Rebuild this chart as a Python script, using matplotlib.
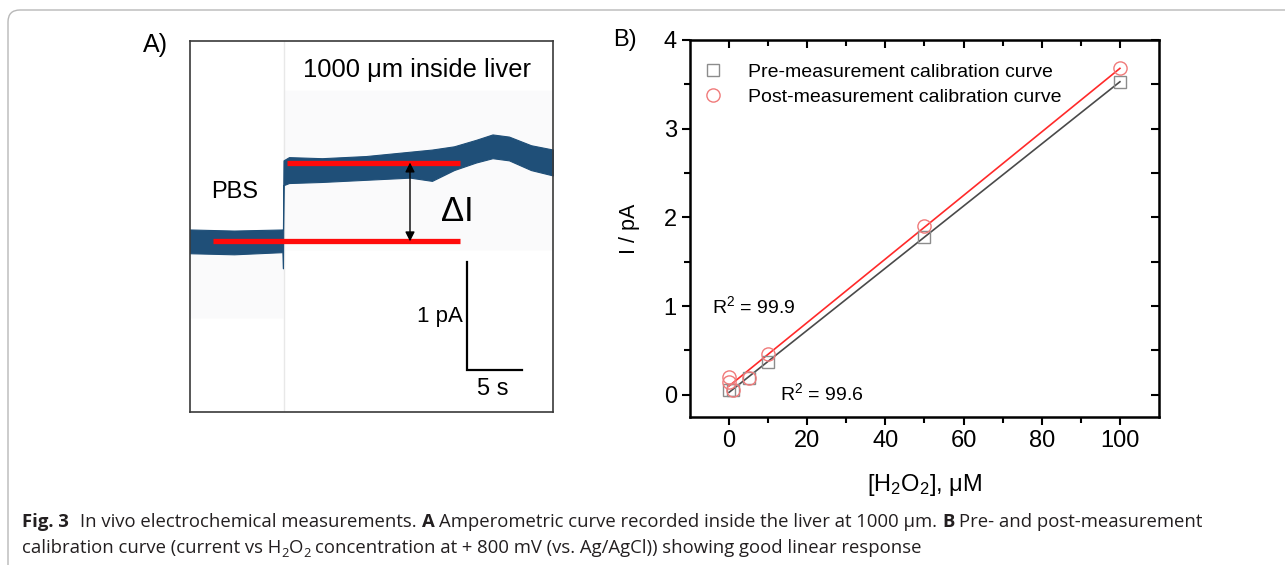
"""
"  plot.py
"  Fig. 3: in vivo amperometric trace (A) and calibration curves (B)
"""

import matplotlib
matplotlib.use('Agg')
import matplotlib.pyplot as plt
from matplotlib.patches import FancyBboxPatch
import numpy as np

plt.rcParams['font.family'] = ['Liberation Sans', 'DejaVu Sans']
plt.rcParams['mathtext.fontset'] = 'custom'
plt.rcParams['mathtext.rm'] = 'Liberation Sans'
plt.rcParams['mathtext.it'] = 'Liberation Sans:italic'

# ---- panel A: envelope of the noisy trace (s, pA)
trace_t = [0, 4, 8.4, 8.45, 8.5, 9, 12, 16, 20, 22, 24, 26, 27.5, 29, 31, 33]
trace_hi = [1.69, 1.68, 1.69, 1.69, 2.33, 2.36, 2.35, 2.37, 2.41, 2.43, 2.46, 2.52, 2.57, 2.55, 2.47, 2.43]
trace_lo = [1.47, 1.46, 1.48, 1.33, 2.10, 2.12, 2.13, 2.15, 2.17, 2.14, 2.24, 2.31, 2.35, 2.33, 2.24, 2.19]
# faint raw-signal haze around the trace
haze_t = [0, 8.45, 8.5, 33]
haze_lo = [0.87, 0.87, 1.5, 1.5]
haze_hi = [1.6, 1.6, 2.98, 2.98]
baseline_level = 1.58
baseline_span = [2.1, 24.5]
liver_level = 2.31
liver_span = [8.8, 24.5]
step_time = 8.5
scalebar_origin = [25.2, 0.39]
scalebar_size = [5, 1]   # 5 s, 1 pA

# ---- panel B: calibration points
pre_x = [0, 1, 5, 10, 50, 100]
pre_y = [0.05, 0.06, 0.19, 0.37, 1.78, 3.53]
post_x = [0, 0, 1, 5, 10, 50, 100]
post_y = [0.20, 0.15, 0.06, 0.19, 0.46, 1.90, 3.68]
pre_label = 'Pre-measurement calibration curve'
post_label = 'Post-measurement calibration curve'

CAPTION_FONT = ['Open Sans', 'DejaVu Sans']
INK = '#231f20'

fig = plt.figure(figsize=(12.85, 5.65), dpi=100)

# outer rounded frame of the figure box
fig.patches.append(FancyBboxPatch((8, -30), 1320, 585, boxstyle='round,pad=0,rounding_size=12',
                                  transform=None, fill=False, edgecolor='#b8b8b8', lw=1))

# ================= panel A =================
axA = fig.add_axes([190 / 1285, 1 - 412 / 565, 363 / 1285, 371 / 565])
axA.set_xlim(0, 33)
axA.set_ylim(0, 371 / 108)
axA.set_xticks([])
axA.set_yticks([])
for sp in axA.spines.values():
    sp.set_color('#3a3a3a')
    sp.set_linewidth(1.2)

axA.fill_between(haze_t, haze_lo, haze_hi, color='#fafafb', lw=0, zorder=0)
axA.axvline(step_time, color='#e8e8e8', lw=1.0, zorder=1)
axA.fill_between(trace_t, trace_lo, trace_hi, color='#1f4f78', lw=0.8, edgecolor='#1f4f78', zorder=2)
axA.plot(baseline_span, [baseline_level] * 2, color='#ff0a0a', lw=3.8, solid_capstyle='butt', zorder=3)
axA.plot(liver_span, [liver_level] * 2, color='#ff0a0a', lw=3.8, solid_capstyle='butt', zorder=3)
axA.annotate('', xy=(20, liver_level), xytext=(20, baseline_level),
             arrowprops=dict(arrowstyle='<|-|>', color='black', lw=1.0, mutation_scale=14,
                             shrinkA=0, shrinkB=0), zorder=4)
axA.text(22.7, 1.86, r'$\Delta$I', fontsize=25, va='center', ha='left')
axA.text(4.1, 2.04, 'PBS', fontsize=17, va='center', ha='center')
axA.text(20.6, 3.17, '1000 \u03bcm inside liver', fontsize=18.4, va='center', ha='center')

sx, sy = scalebar_origin
sw, sh = scalebar_size
axA.plot([sx, sx, sx + sw], [sy + sh, sy, sy], color='black', lw=1.6, solid_joinstyle='miter')
axA.text(sx - 0.35, 0.88, '1 pA', fontsize=16, ha='right', va='center')
axA.text(sx + sw / 2 - 0.2, 0.21, '5 s', fontsize=17, ha='center', va='center')

fig.text(155 / 1285, 1 - 45 / 565, 'A)', fontsize=18, ha='center', va='center')

# ================= panel B =================
axB = fig.add_axes([690 / 1285, 1 - 417 / 565, 469 / 1285, 377 / 565])
axB.set_xlim(-10, 110)
axB.set_ylim(-0.25, 4)

for xs, ys, lc, mc, mk, ms, lab in [(pre_x, pre_y, '#4a4a4a', '#8c8c8c', 's', 8, pre_label),
                                    (post_x, post_y, '#ff2a2a', '#f07a7a', 'o', 9.5, post_label)]:
    k, b = np.polyfit(xs, ys, 1)
    fx = np.array([min(xs), max(xs)])
    axB.plot(fx, k * fx + b, color=lc, lw=1.2, zorder=2)
    axB.plot(xs, ys, ls='none', marker=mk, ms=ms, mfc='none', mec=mc, mew=1.0, label=lab, zorder=3)

axB.set_xticks([0, 20, 40, 60, 80, 100])
axB.set_xticks([10, 30, 50, 70, 90], minor=True)
axB.set_yticks([0, 1, 2, 3, 4])
axB.set_yticks([0.5, 1.5, 2.5, 3.5], minor=True)
axB.tick_params(which='both', direction='out', top=False, right=False, labelsize=17, width=1.5)
axB.tick_params(which='major', length=6)
axB.tick_params(which='minor', length=4)
for sp in axB.spines.values():
    sp.set_linewidth(1.8)

# mirrored inward ticks on top and right
axT = axB.secondary_xaxis('top')
axT.set_xticks([0, 20, 40, 60, 80, 100])
axT.set_xticks([10, 30, 50, 70, 90], minor=True)
axT.tick_params(which='both', direction='in', labeltop=False, width=1.5, length=6)
axT.tick_params(which='minor', length=4)
axR = axB.secondary_yaxis('right')
axR.set_yticks([0, 1, 2, 3, 4])
axR.set_yticks([0.5, 1.5, 2.5, 3.5], minor=True)
axR.tick_params(which='both', direction='in', labelright=False, width=1.5, length=6)

axB.set_ylabel('I / pA', fontsize=15.5)
axB.yaxis.set_label_coords(-50 / 469, 0.5)
axB.set_xlabel('[H$_2$O$_2$], \u03bcM', fontsize=17, labelpad=14)

axB.text(-4.4, 1.0, 'R$^2$ = 99.9', fontsize=14, va='center', ha='left')
axB.text(13, 0.02, 'R$^2$ = 99.6', fontsize=14, va='center', ha='left')

axB.legend(loc='upper left', bbox_to_anchor=(0.029, 0.939), frameon=False, fontsize=14,
           handlelength=1.0, handletextpad=1.3, labelspacing=0.38, borderaxespad=0, borderpad=0)

fig.text(625 / 1285, 1 - 40 / 565, 'B)', fontsize=17, ha='center', va='center')

# ================= caption =================
renderer = fig.canvas.get_renderer()


def text_width(s, size, weight='normal'):
    t = fig.text(0, 0, s, fontsize=size, fontweight=weight, family=CAPTION_FONT)
    w = t.get_window_extent(renderer=renderer).width
    t.remove()
    return w


def put_line(x0, y0, pieces, size):
    """pieces: (text, weight, size scale, baseline shift in px, space after)"""
    space = text_width('x x', size) - text_width('xx', size)
    x = x0
    for s, w, sc, dy, gap in pieces:
        t = fig.text(x / 1285, (565 - y0 + dy) / 565, s, fontsize=size * sc, fontweight=w,
                     family=CAPTION_FONT, color=INK, ha='left', va='baseline')
        x += t.get_window_extent(renderer=renderer).width + gap * space


cap_size = 13.3
put_line(22, 527, [('Fig. 3', 'bold', 1, 0, 2.4),
                   ('In vivo electrochemical measurements.', 'normal', 1, 0, 1),
                   ('A', 'bold', 1, 0, 1),
                   ('Amperometric curve recorded inside the liver at 1000 \u00b5m.', 'normal', 1, 0, 1),
                   ('B', 'bold', 1, 0, 1),
                   ('Pre- and post-measurement', 'normal', 1, 0, 0)], cap_size)
put_line(22, 553, [('calibration curve (current vs H', 'normal', 1, 0, 0),
                   ('2', 'normal', 0.7, -4, 0),
                   ('O', 'normal', 1, 0, 0),
                   ('2', 'normal', 0.7, -4, 1),
                   ('concentration at + 800 mV (vs. Ag/AgCl)) showing good linear response', 'normal', 1, 0, 0)],
         cap_size)

fig.savefig('out.png', dpi=100)
